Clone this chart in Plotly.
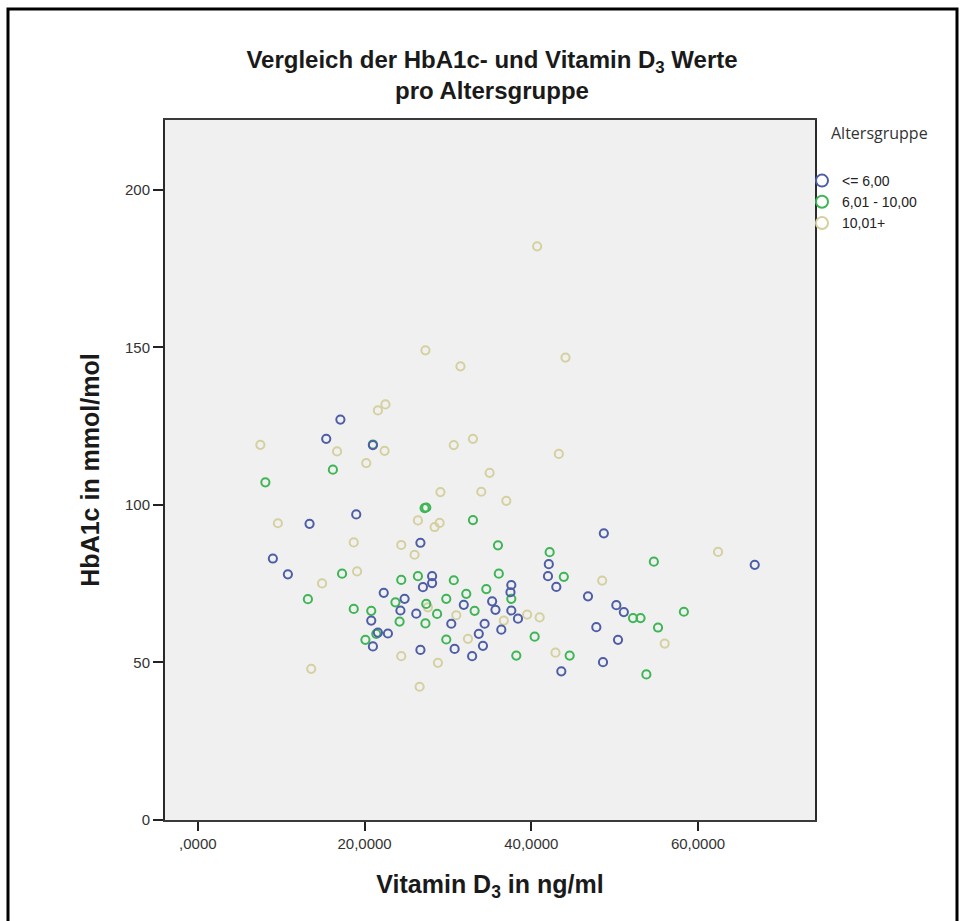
import plotly.graph_objects as go

# ---- data ----
group_names = ["<= 6,00", "6,01 - 10,00", "10,01+"]

blue_x = [17.1, 15.4, 21.0, 19.0, 13.4, 9.0, 10.8, 26.7, 48.7, 66.8, 42.1, 42.0, 43.0, 46.8,
          50.2, 51.1, 47.8, 50.4, 48.6, 43.6, 37.6, 37.5, 37.6, 38.4, 36.4, 35.3, 35.7, 34.4,
          33.7, 34.2, 32.9, 31.9, 30.4, 30.8, 28.1, 28.1, 27.0, 26.7, 26.2, 24.8, 24.3, 22.3,
          22.8, 21.6, 20.8, 21.0]
blue_y = [127.1, 121.0, 119.0, 97.0, 94.0, 83.0, 78.0, 88.0, 91.0, 81.0, 81.2, 77.4, 74.0, 71.0,
          68.2, 66.0, 61.2, 57.2, 50.1, 47.2, 74.6, 72.3, 66.5, 63.9, 60.4, 69.4, 66.7, 62.3,
          59.1, 55.3, 52.0, 68.3, 62.3, 54.3, 77.4, 75.2, 73.9, 54.0, 65.5, 70.2, 66.5, 72.1,
          59.2, 59.5, 63.3, 55.1]

green_x = [21.0, 16.2, 8.1, 27.4, 27.2, 33.0, 36.0, 42.2, 54.7, 17.3, 36.1, 43.9, 24.4, 26.4,
           30.7, 13.2, 18.7, 20.8, 20.1, 21.4, 23.7, 29.8, 32.2, 34.6, 37.6, 27.4, 28.7, 33.2,
           24.2, 27.3, 29.8, 38.2, 40.4, 44.6, 52.2, 53.1, 55.2, 58.3, 53.8]
green_y = [119.2, 111.2, 107.2, 99.2, 99.0, 95.2, 87.2, 85.0, 82.0, 78.2, 78.2, 77.2, 76.2, 77.4,
           76.1, 70.1, 67.0, 66.4, 57.2, 59.1, 69.1, 70.2, 71.8, 73.3, 70.2, 68.6, 65.4, 66.4,
           63.0, 62.4, 57.3, 52.2, 58.2, 52.2, 64.1, 64.1, 61.1, 66.1, 46.2]

beige_x = [40.7, 27.3, 44.1, 31.5, 22.5, 21.6, 7.5, 16.7, 22.4, 33.0, 30.7, 43.3, 20.2, 35.0,
           34.0, 29.1, 37.0, 9.6, 26.4, 28.4, 29.0, 18.7, 24.4, 26.0, 62.4, 19.1, 14.9, 48.5,
           13.6, 24.4, 28.8, 26.6, 42.9, 56.0, 41.0, 39.5, 32.4, 27.6, 31.0, 36.7]
beige_y = [182.1, 149.1, 146.8, 144.0, 131.9, 130.0, 119.1, 117.0, 117.2, 121.0, 119.0, 116.2,
           113.3, 110.2, 104.2, 104.1, 101.3, 94.2, 95.1, 93.0, 94.3, 88.1, 87.3, 84.2, 85.1,
           78.9, 75.1, 76.0, 48.0, 52.0, 49.9, 42.3, 53.1, 56.0, 64.3, 65.2, 57.5, 67.5, 65.0,
           63.3]

x_tickvals = [0, 20, 40, 60]
x_ticktext = [",0000", "20,0000", "40,0000", "60,0000"]
y_tickvals = [0, 50, 100, 150, 200]
y_ticktext = ["0", "50", "100", "150", "200"]

colors = ["#4e5ea6", "#3fb556", "#d5d0a0"]

# ---- layout geometry (pixels) ----
W, H = 966, 921
L, R, T, B = 165, 151, 120, 101
PW, PH = W - L - R, H - T - B


def px_x(p):
    return (p - L) / PW


def px_y(p):
    return (H - B - p) / PH


fig = go.Figure()

series = [(beige_x, beige_y, 2), (green_x, green_y, 1), (blue_x, blue_y, 0)]
for xs, ys, gi in series:
    fig.add_trace(go.Scatter(
        x=xs, y=ys, mode="markers", name=group_names[gi], legendrank=gi + 1,
        marker=dict(symbol="circle-open", size=8.2, color=colors[gi],
                    line=dict(width=2, color=colors[gi])),
    ))

font_family = "Liberation Sans, Arial, sans-serif"

fig.update_layout(
    width=W, height=H,
    margin=dict(l=L, r=R, t=T, b=B),
    paper_bgcolor="white",
    plot_bgcolor="#f0f0f0",
    font=dict(family=font_family, color="#222"),
    title=dict(
        text="Vergleich der HbA1c- und Vitamin D<sub>3</sub> Werte<br>pro Altersgruppe",
        x=492 / W, xanchor="center", y=1 - 68 / H, yanchor="middle",
        xref="container", yref="container",
        font=dict(size=24, family=font_family, weight="bold", color="#1a1a1a"),
    ),
    xaxis=dict(
        range=[-3.94, 74.03], tickvals=x_tickvals, ticktext=x_ticktext,
        showgrid=False, zeroline=False,
        showline=True, linecolor="#3a3a3a", linewidth=2, mirror=True,
        ticks="outside", ticklen=9, tickwidth=1.5, tickcolor="#222",
        tickfont=dict(size=15, color="#333"),
        title=dict(text="Vitamin D<sub>3</sub> in ng/ml", standoff=24,
                   font=dict(size=25, weight="bold", color="#1a1a1a")),
    ),
    yaxis=dict(
        range=[0, 222.2], tickvals=y_tickvals, ticktext=y_ticktext,
        showgrid=False, zeroline=False,
        showline=True, linecolor="#2a2a2a", linewidth=2, mirror=True,
        ticks="outside", ticklen=10, tickwidth=1.5, tickcolor="#222",
        tickfont=dict(size=15, color="#333"),
        title=dict(text="HbA1c in mmol/mol", standoff=18,
                   font=dict(size=25, weight="bold", color="#1a1a1a")),
    ),
    showlegend=True,
    legend=dict(
        x=px_x(802), xanchor="left", y=px_y(165), yanchor="top",
        font=dict(size=14, color="#222"),
        bgcolor="rgba(0,0,0,0)", borderwidth=0,
        itemsizing="constant", tracegroupgap=0,
    ),
    annotations=[
        dict(text="Altersgruppe", xref="paper", yref="paper",
             x=px_x(829), y=px_y(133), xanchor="left", yanchor="middle",
             showarrow=False,
             font=dict(size=16, family="Open Sans, Noto Sans, sans-serif", color="#333")),
    ],
    shapes=[
        dict(type="rect", xref="paper", yref="paper",
             x0=px_x(8), x1=px_x(957), y0=px_y(935), y1=px_y(9),
             line=dict(color="black", width=3), fillcolor="rgba(0,0,0,0)", layer="above"),
    ],
)

fig.write_html("out.html")
